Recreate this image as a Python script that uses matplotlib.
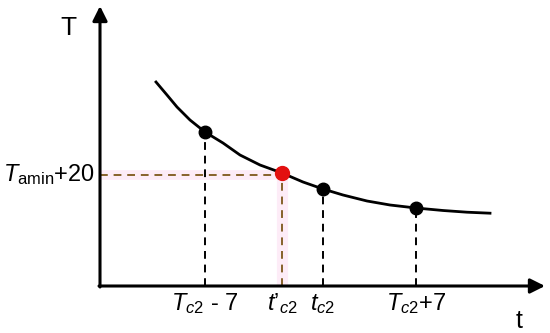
import matplotlib.pyplot as plt

plt.rcParams['font.family'] = 'Liberation Sans'
plt.rcParams['mathtext.fontset'] = 'custom'
plt.rcParams['mathtext.rm'] = 'Liberation Sans'
plt.rcParams['mathtext.it'] = 'Liberation Sans:italic'

# curve T(t) (arbitrary units)
curve_t = [56, 67, 77, 90, 105, 123, 140, 160, 182, 203, 223, 243, 267, 290, 316, 343, 367, 390]
curve_T = [204, 191, 179, 166, 154, 143, 131, 121, 113, 104, 97, 91, 85, 81, 78, 75.5, 73.8, 72.8]

# marked points
pt_t = [105, 223, 316]
pt_T = [154, 97, 78]
red_t = 182
red_T = 113

tick_pos = [105, 182, 223, 316]
tick_labels = [r'$\mathit{T}_{\mathit{c2}}$ - 7', r'$\mathit{t’}_{\mathit{c2}}$',
               r'$\mathit{t}_{\mathit{c2}}$', r'$\mathit{T}_{\mathit{c2}}$+7']
level_label = r'$\mathit{T}_{\mathrm{amin}}$+20'

fig = plt.figure(figsize=(5.5, 3.33), dpi=100)
ax = fig.add_axes([0, 0, 1, 1])
ax.set_xlim(-100, 450)
ax.set_ylim(-47, 286)
ax.axis('off')

# pink highlight behind the brown guide lines
ax.plot([0, red_t + 6], [red_T - 2, red_T - 2], color='#fdecf7', lw=7, solid_capstyle='butt', zorder=1)
ax.plot([red_t, red_t], [0, red_T], color='#fdecf7', lw=8, solid_capstyle='butt', zorder=1)

# axes with arrows
ax.annotate('', xy=(0, 280), xytext=(0, -1),
            arrowprops=dict(arrowstyle='-|>', lw=2.2, color='black', mutation_scale=22, shrinkA=0, shrinkB=0))
ax.annotate('', xy=(445, 0), xytext=(-1, 0),
            arrowprops=dict(arrowstyle='-|>', lw=2.2, color='black', mutation_scale=22, shrinkA=0, shrinkB=0))

# dashed guides
for x, y in zip(pt_t, pt_T):
    ax.plot([x, x], [0, y], color='black', lw=1.4, ls=(0, (4, 3)), zorder=2)
ax.plot([0, red_t], [red_T - 2, red_T - 2], color='#86622a', lw=1.4, ls=(0, (4, 3)), zorder=2)
ax.plot([red_t, red_t], [0, red_T], color='#86622a', lw=1.4, ls=(0, (4, 3)), zorder=2)

ax.plot(curve_t, curve_T, color='black', lw=2, solid_joinstyle='round', zorder=3)
ax.plot(pt_t, pt_T, 'o', color='black', ms=9, zorder=4)
ax.plot([red_t], [red_T], 'o', color='#e31010', ms=10, zorder=4)

for x, lab in zip(tick_pos, tick_labels):
    ax.text(x, -18, lab, ha='center', va='center', fontsize=17)
ax.text(-5, red_T - 2, level_label, ha='right', va='center', fontsize=17)
ax.text(-32, 258, 'T', ha='center', va='center', fontsize=19)
ax.text(419, -35, 't', ha='center', va='center', fontsize=18)

fig.savefig('out.png', dpi=100)
